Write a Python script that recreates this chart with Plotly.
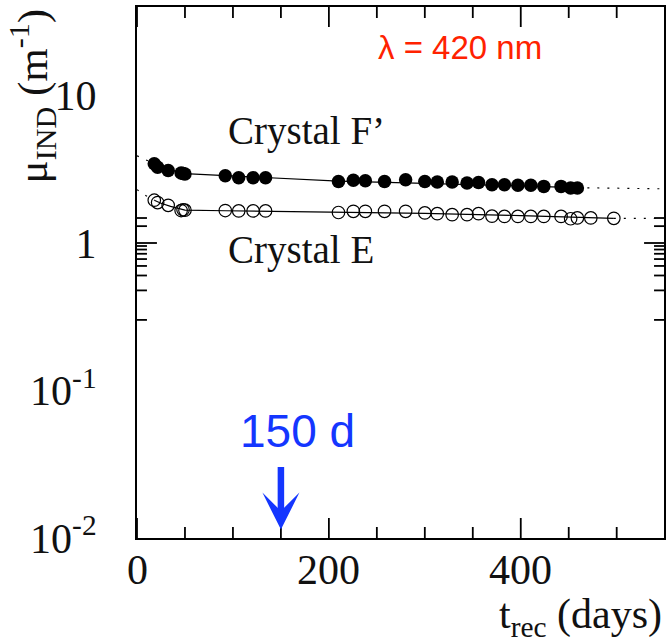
import plotly.graph_objects as go
import numpy as np

# ---------------- data ----------------
days = [18, 21.5, 32.5, 46, 48, 50, 92, 106, 121, 134, 210, 225.5, 238, 258,
        280, 300, 313, 328.5, 344, 356, 370, 383, 397, 410.5, 424, 442, 452, 459]
mu_F = [3.45, 3.26, 3.10, 2.98, 2.96, 2.94, 2.86, 2.77, 2.77, 2.77, 2.61, 2.66,
        2.64, 2.61, 2.68, 2.61, 2.59, 2.59, 2.55, 2.57, 2.48, 2.48, 2.46, 2.46,
        2.42, 2.42, 2.36, 2.36]

days_E = days + [473, 497]
mu_E = [1.95, 1.88, 1.80, 1.66, 1.68, 1.67, 1.66, 1.65, 1.65, 1.65, 1.61, 1.64,
        1.64, 1.64, 1.64, 1.60, 1.58, 1.556, 1.556, 1.58, 1.52, 1.515, 1.515,
        1.515, 1.515, 1.515, 1.46, 1.48, 1.48, 1.47]

# fitted curves (solid) and their extrapolations (dotted)
fitF_days = [18, 30, 50, 92, 134, 210, 300, 400, 459]
fitF_mu = [3.45, 3.18, 2.95, 2.86, 2.77, 2.63, 2.54, 2.44, 2.37]
extF_left_days = [0, 9, 18]
extF_left_mu = [3.9, 3.67, 3.45]
extF_right_days = [459, 550]
extF_right_mu = [2.37, 2.33]

fitE_days = [18, 25, 35, 50, 92, 134, 210, 300, 400, 459, 497]
fitE_mu = [1.95, 1.86, 1.77, 1.67, 1.655, 1.645, 1.625, 1.59, 1.535, 1.50, 1.47]
extE_left_days = [0, 9, 18]
extE_left_mu = [2.3, 2.1, 1.95]
extE_right_days = [497, 550]
extE_right_mu = [1.47, 1.465]

arrow_day = 150
arrow_tip_mu = 0.0114

x_range = [0, 549.3]
x_major = [0, 200, 400]
x_major_text = ["0", "200", "400"]
x_minor = [50, 100, 150, 250, 300, 350, 450, 500]
y_range_log = [-2, 1.6]
y_major = [0.01, 0.1, 1, 10]
y_major_text = ["10<sup>-2</sup>", "10<sup>-1</sup>", "1", "10"]
y_minor = [m * 10.0 ** e for e in range(-2, 2) for m in range(2, 10) if m * 10.0 ** e < 40]

SERIF = "Liberation Serif"
SANS = "Liberation Sans"

fig = go.Figure()

line_style = dict(color="black", width=1.2)
dot_style = dict(color="black", width=1.2, dash="2px,8px")

for xs, ys, st in [
    (fitF_days, fitF_mu, line_style),
    (extF_left_days, extF_left_mu, dot_style),
    (extF_right_days, extF_right_mu, dot_style),
    (fitE_days, fitE_mu, line_style),
    (extE_left_days, extE_left_mu, dot_style),
    (extE_right_days, extE_right_mu, dot_style),
]:
    fig.add_trace(go.Scatter(x=xs, y=ys, mode="lines", line=st,
                             hoverinfo="skip", showlegend=False))

fig.add_trace(go.Scatter(x=days, y=mu_F, mode="markers", name="Crystal F'",
                         marker=dict(symbol="circle", size=13.5, color="black"),
                         showlegend=False))
fig.add_trace(go.Scatter(x=days_E, y=mu_E, mode="markers", name="Crystal E",
                         marker=dict(symbol="circle-open", size=12.5, color="black",
                                     line=dict(width=1.2, color="black")),
                         showlegend=False))

L, R, T, B = 137, 2, 7, 104
W, H = 668, 642
pw, ph = W - L - R, H - T - B


def pxx(xp):
    return (xp - L) / pw


def pxy(yp):
    return (H - B - yp) / ph


# frame tick marks (inside, on all four sides), positioned on the axes' scales
tick_line = dict(color="black", width=1.8)
shapes = []
for vals, ln in [(x_major, 20), (x_minor, 11)]:
    for v in vals:
        shapes.append(dict(type="line", xref="x", yref="paper", x0=v, x1=v,
                           y0=0, y1=ln / ph, line=tick_line, layer="above"))
        shapes.append(dict(type="line", xref="x", yref="paper", x0=v, x1=v,
                           y0=1, y1=1 - ln / ph, line=tick_line, layer="above"))
for vals, ln in [(y_major, 20), (y_minor, 10)]:
    for v in vals:
        lv = float(np.log10(v))
        shapes.append(dict(type="line", xref="paper", yref="y", x0=0, x1=ln / pw,
                           y0=lv, y1=lv, line=tick_line, layer="above"))
        shapes.append(dict(type="line", xref="paper", yref="y", x0=1,
                           x1=1 - ln / pw, y0=lv, y1=lv, line=tick_line,
                           layer="above"))

annotations = [
    dict(text="Crystal F\u2019", x=pxx(226), y=pxy(131), xref="paper", yref="paper",
         xanchor="left", yanchor="middle", showarrow=False,
         font=dict(family=SERIF, size=39, color="#111111")),
    dict(text="Crystal E", x=pxx(226), y=pxy(250), xref="paper", yref="paper",
         xanchor="left", yanchor="middle", showarrow=False,
         font=dict(family=SERIF, size=39, color="#111111")),
    dict(text="\u03bb = 420 nm", x=pxx(377), y=pxy(47), xref="paper", yref="paper",
         xanchor="left", yanchor="middle", showarrow=False,
         font=dict(family=SANS, size=33, color="#ff2200")),
    dict(text="150 d", x=pxx(298), y=pxy(431), xref="paper", yref="paper",
         xanchor="center", yanchor="middle", showarrow=False,
         font=dict(family=SANS, size=46, color="#1436ff")),
    dict(text="", x=arrow_day, y=np.log10(arrow_tip_mu), xref="x", yref="y",
         showarrow=True, ax=0, ay=-64, arrowhead=3, arrowsize=0.95,
         arrowwidth=6.5, arrowcolor="#1436ff", standoff=0),
    dict(text="t<sub>rec</sub> (days)", x=pxx(666), y=pxy(617), xref="paper",
         yref="paper", xanchor="right", yanchor="middle", showarrow=False,
         font=dict(family=SERIF, size=42, color="#111111")),
    dict(text="\u03bc<sub>IND</sub> (m<sup>-1</sup>)", x=pxx(33), y=pxy(96),
         xref="paper", yref="paper", xanchor="center", yanchor="middle",
         textangle=-90, showarrow=False,
         font=dict(family=SERIF, size=43, color="#111111")),
]
# x tick labels, one at each major tick value
for v, t in zip(x_major, x_major_text):
    annotations.append(dict(text=t, x=v, y=pxy(545), xref="x", yref="paper",
                            xanchor="center", yanchor="top", showarrow=False,
                            font=dict(family=SERIF, size=42, color="#111111")))

axis_common = dict(ticks="", showline=True, linewidth=2, linecolor="#000000",
                   mirror=True, showgrid=False, zeroline=False)

fig.update_layout(
    width=W, height=H,
    margin=dict(l=L, r=R, t=T, b=B, pad=0),
    paper_bgcolor="white", plot_bgcolor="white",
    showlegend=False,
    annotations=annotations,
    shapes=shapes,
    xaxis=dict(range=x_range, showticklabels=False, **axis_common),
    yaxis=dict(type="log", range=y_range_log, tickmode="array", tickvals=y_major,
               ticktext=y_major_text,
               tickfont=dict(family=SERIF, size=42, color="#111111"),
               ticklabelstandoff=30, **axis_common),
)

fig.write_html("out.html")
